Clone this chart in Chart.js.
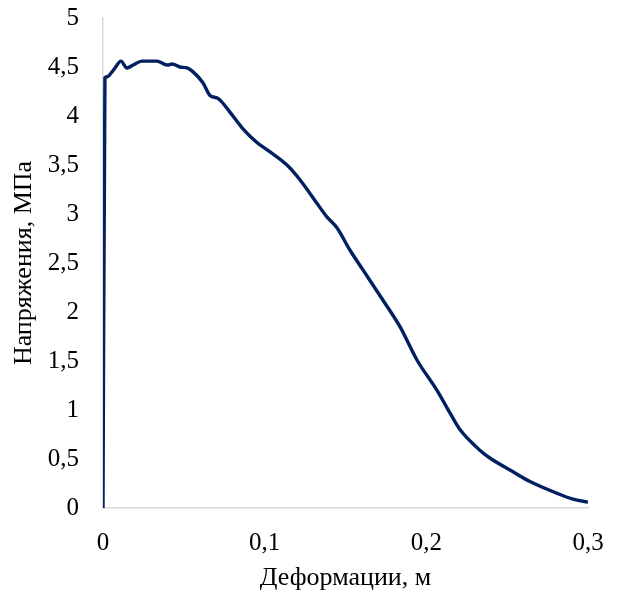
<!DOCTYPE html>
<html>
<head>
    <title>Напряжения и деформации</title>
    <meta charset="UTF-8">
    <style>
        body { margin: 0; background: #fff; }
    </style>
</head>
<body>
<canvas id="myChart" width="620" height="592"></canvas>
<script src="https://cdn.jsdelivr.net/npm/chart.js@4.4.1/dist/chart.umd.min.js"></script>
<script>
    // деформация, м
    var strain = [0, 0.0012, 0.0025, 0.0056, 0.0074, 0.0111, 0.0148, 0.0186, 0.0241, 0.0334,
        0.0396, 0.0427, 0.0476, 0.052, 0.0557, 0.0618, 0.0662, 0.0711, 0.0785, 0.086,
        0.0952, 0.102, 0.1138, 0.1218, 0.1323, 0.1385, 0.1447, 0.1528, 0.1608, 0.1732,
        0.1837, 0.1942, 0.2066, 0.2146, 0.2208, 0.2331, 0.2393, 0.2536, 0.2641, 0.2808,
        0.2907, 0.300];
    // напряжение, МПа
    var stress = [0, 4.39, 4.40, 4.45, 4.49, 4.56, 4.49, 4.52, 4.56, 4.56,
        4.52, 4.53, 4.50, 4.49, 4.45, 4.34, 4.21, 4.18, 4.04, 3.88,
        3.73, 3.65, 3.50, 3.35, 3.11, 2.97, 2.86, 2.63, 2.43, 2.12,
        1.85, 1.51, 1.20, 0.97, 0.80, 0.59, 0.51, 0.37, 0.27, 0.15,
        0.09, 0.06];
    var xTicks = [0, 0.1, 0.2, 0.3];
    var yTicks = [0, 0.5, 1, 1.5, 2, 2.5, 3, 3.5, 4, 4.5, 5];

    var points = [];
    for (let i = 0; i < strain.length; i++) {
        points.push({x: strain[i], y: stress[i]});
    }

    var serif = "'Liberation Serif', 'Times New Roman', serif";
    var tickFont = {family: serif, size: 25, lineHeight: 1};
    var titleFont = {family: serif, size: 26, lineHeight: 1};
    function comma(v) {
        return String(v).replace('.', ',');
    }

    var ctx = document.getElementById('myChart').getContext('2d');
    let myChart = new Chart(ctx, {
        type: 'line',
        data: {
            datasets: [
                {
                    data: points,
                    borderColor: '#002060',
                    borderWidth: 3.4,
                    pointRadius: 0,
                    fill: false,
                    cubicInterpolationMode: 'monotone'
                }
            ]
        },
        options: {
            responsive: false,
            animation: false,
            layout: {padding: {top: 18, right: 32, left: 0, bottom: 0}},
            plugins: {legend: {display: false}, tooltip: {enabled: false}},
            scales: {
                x: {
                    type: 'linear',
                    min: 0,
                    max: 0.3,
                    afterFit: function (scale) {
                        scale.height = 84;
                        // edge labels should not shrink the plot area
                        scale.paddingLeft = 0;
                        scale.paddingRight = 0;
                    },
                    afterBuildTicks: function (axis) {
                        axis.ticks = xTicks.map(v => ({value: v}));
                    },
                    grid: {display: false, drawTicks: false},
                    border: {display: true, color: '#d9d9d9', width: 1.5},
                    ticks: {
                        font: tickFont, color: '#000', padding: 23, maxRotation: 0,
                        callback: v => comma(v)
                    },
                    title: {
                        display: true, text: 'Деформации, м', color: '#000', font: titleFont,
                        padding: {top: 0, bottom: 1}
                    }
                },
                y: {
                    min: 0,
                    max: 5,
                    afterFit: function (scale) {
                        scale.width = 103;
                        scale.paddingTop = 0;
                        scale.paddingBottom = 0;
                    },
                    afterBuildTicks: function (axis) {
                        axis.ticks = yTicks.map(v => ({value: v}));
                    },
                    grid: {display: false, drawTicks: false},
                    border: {display: true, color: '#d9d9d9', width: 1.5},
                    ticks: {
                        font: tickFont, color: '#000', padding: 24,
                        callback: v => comma(v)
                    },
                    title: {
                        display: true, text: 'Напряжения, МПа', color: '#000', font: titleFont,
                        padding: {top: 11, bottom: 0}
                    }
                }
            }
        }
    });
</script>
</body>
</html>
